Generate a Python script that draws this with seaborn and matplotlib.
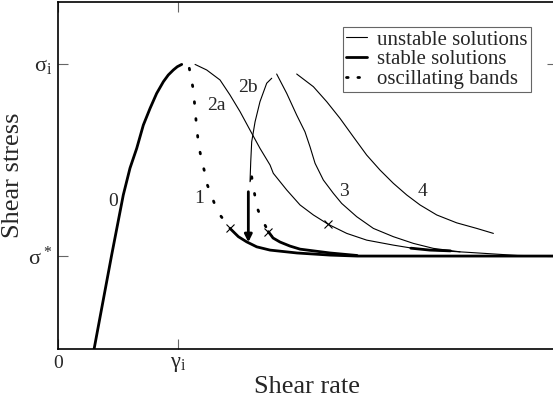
import numpy as np
import matplotlib
matplotlib.use("Agg")
import matplotlib.pyplot as plt
import seaborn as sns
from matplotlib.lines import Line2D

# shear rate in units of gamma_i, shear stress with sigma* = 1 and sigma_i = 2
# branch 0 (stable, thick)
x0 = [0.29, 0.447, 0.544, 0.600, 0.656, 0.711, 0.767, 0.822, 0.878, 0.919, 0.961, 0.994, 1.031]
y0 = [0.48, 1.005, 1.318, 1.458, 1.561, 1.682, 1.769, 1.847, 1.908, 1.943, 1.969, 1.986, 1.998]

# branch 1 oscillating bands (dotted) then stable
x1_osc = [1.094, 1.128, 1.150, 1.169, 1.183, 1.203, 1.225, 1.239, 1.267, 1.308, 1.350, 1.392, 1.433]
y1_osc = [1.978, 1.865, 1.708, 1.592, 1.543, 1.483, 1.431, 1.379, 1.335, 1.266, 1.214, 1.179, 1.144]
x1_stab = [1.433, 1.503, 1.572, 1.656, 1.767, 1.992, 2.267, 2.492, 4.20]
y1_stab = [1.144, 1.101, 1.074, 1.048, 1.031, 1.016, 1.005, 1.000, 1.000]

# branch 2a (unstable)
x2a = [1.142, 1.239, 1.350, 1.433, 1.517, 1.600, 1.683, 1.767, 1.794, 1.906, 2.017, 2.128,
       2.253, 2.406, 2.572, 2.794, 2.961, 3.100, 3.40, 3.83, 4.20]
y2a = [1.998, 1.969, 1.917, 1.839, 1.752, 1.656, 1.561, 1.474, 1.431, 1.344, 1.266, 1.214,
       1.165, 1.118, 1.083, 1.057, 1.040, 1.031, 1.020, 1.003, 1.000]
x2a_stab = [2.94, 3.10, 3.27]
y2a_stab = [1.041, 1.031, 1.027]

# branch 2b: unstable, oscillating, stable
x2b = [1.781, 1.739, 1.683, 1.642, 1.614, 1.606, 1.600, 1.614]
y2b = [1.926, 1.900, 1.804, 1.699, 1.595, 1.491, 1.387, 1.413]
x2b_osc = [1.614, 1.628, 1.642, 1.656, 1.683, 1.725, 1.753]
y2b_osc = [1.413, 1.361, 1.309, 1.257, 1.214, 1.161, 1.127]
x2b_stab = [1.753, 1.792, 1.85, 1.933, 2.017, 2.142, 2.267, 2.492]
y2b_stab = [1.127, 1.094, 1.073, 1.052, 1.036, 1.026, 1.016, 1.003]

# branches 3 and 4 (unstable)
x3 = [1.822, 1.906, 1.989, 2.058, 2.100, 2.142, 2.211, 2.294, 2.364, 2.489, 2.628, 2.794,
      2.961, 3.128, 3.350]
y3 = [1.948, 1.847, 1.734, 1.647, 1.569, 1.483, 1.396, 1.327, 1.274, 1.205, 1.144, 1.101,
      1.066, 1.040, 1.022]
x4 = [1.989, 2.128, 2.239, 2.350, 2.461, 2.572, 2.683, 2.794, 2.906, 3.017, 3.156, 3.322,
      3.489, 3.628]
y4 = [1.948, 1.882, 1.804, 1.717, 1.621, 1.526, 1.448, 1.379, 1.318, 1.266, 1.214, 1.173,
      1.144, 1.118]

# crosses where the bands stop oscillating
x_cross = [1.433, 1.753, 2.253]
y_cross = [1.144, 1.127, 1.165]

curve_labels = ["0", "1", "2a", "2b", "3", "4"]
label_x = [0.461, 1.175, 1.317, 1.586, 2.383, 3.04]
label_y = [1.283, 1.300, 1.783, 1.878, 1.335, 1.337]

sns.set_style("ticks")
plt.rcParams['font.family'] = ['Liberation Serif', 'DejaVu Serif']
plt.rcParams['mathtext.fontset'] = 'custom'
plt.rcParams['mathtext.rm'] = 'Liberation Serif'
plt.rcParams['axes.edgecolor'] = 'black'

fig = plt.figure(figsize=(5.53, 4.08), dpi=100)
ax = fig.add_axes([58 / 553, 59 / 408, 499 / 553, 347 / 408])

thin = dict(color="black", linewidth=0.8, sort=False, estimator=None, ax=ax)
thick = dict(color="black", linewidth=2.0, sort=False, estimator=None, ax=ax)
dots = dict(color="black", linewidth=2.0, sort=False, estimator=None, ax=ax,
            linestyle=(0, (0.6, 5.5)), dash_capstyle="round")

sns.lineplot(x=x2a, y=y2a, **thin)
sns.lineplot(x=x2b, y=y2b, **thin)
sns.lineplot(x=x3, y=y3, **thin)
sns.lineplot(x=x4, y=y4, **thin)

sns.lineplot(x=x0, y=y0, **thick)
sns.lineplot(x=x1_stab, y=y1_stab, **thick)
sns.lineplot(x=x2b_stab, y=y2b_stab, **thick)
sns.lineplot(x=x2a_stab, y=y2a_stab, **thick)

sns.lineplot(x=x1_osc, y=y1_osc, **dots)
sns.lineplot(x=x2b_osc, y=y2b_osc, **dots)

ax.plot(x_cross, y_cross, "x", color="black", markersize=6, markeredgewidth=0.8)

# arrow: jump down onto the stable branch
ax.annotate("", xy=(1.586, 1.072), xytext=(1.586, 1.335),
            arrowprops=dict(arrowstyle="-|>", lw=2.0, color="black", mutation_scale=11,
                            shrinkA=0, shrinkB=0))

for lab, lx, ly in zip(curve_labels, label_x, label_y):
    ax.text(lx, ly, lab, fontsize=14, ha="center", va="center")

ax.set_xlim(0, 4.158)
ax.set_ylim(0.516, 2.323)
ax.set_xticks([0, 1])
ax.set_xticklabels(["0", r"$\mathregular{\gamma_i}$"])
ax.set_yticks([1, 2])
ax.set_yticklabels([r"$\mathregular{\sigma^*}$", r"$\mathregular{\sigma_i}$"])
ax.tick_params(direction="in", length=7, width=0.8, color="0.4", top=True, right=True,
               labelsize=16, pad=4)
ax.get_xticklabels()[0].set_fontsize(14)
for s in ax.spines.values():
    s.set_linewidth(1.2)

ax.set_xlabel("Shear rate", fontsize=19, labelpad=2)
ax.set_ylabel("Shear stress", fontsize=19, labelpad=3)

handles = [Line2D([], [], color="black", linewidth=0.8),
           Line2D([], [], color="black", linewidth=2.0),
           Line2D([], [], color="black", linewidth=2.0, linestyle=(0, (0.6, 3.5)),
                  dash_capstyle="round")]
leg = ax.legend(handles, ["unstable solutions", "stable solutions", "oscillating bands"],
                loc="upper right", bbox_to_anchor=(0.948, 0.928), borderaxespad=0,
                fontsize=15, handlelength=1.0, handletextpad=0.5, labelspacing=0,
                borderpad=0.15, fancybox=False, framealpha=1)
leg.get_frame().set_edgecolor("0.4")
leg.get_frame().set_linewidth(0.8)

fig.savefig("out.png", dpi=100)
